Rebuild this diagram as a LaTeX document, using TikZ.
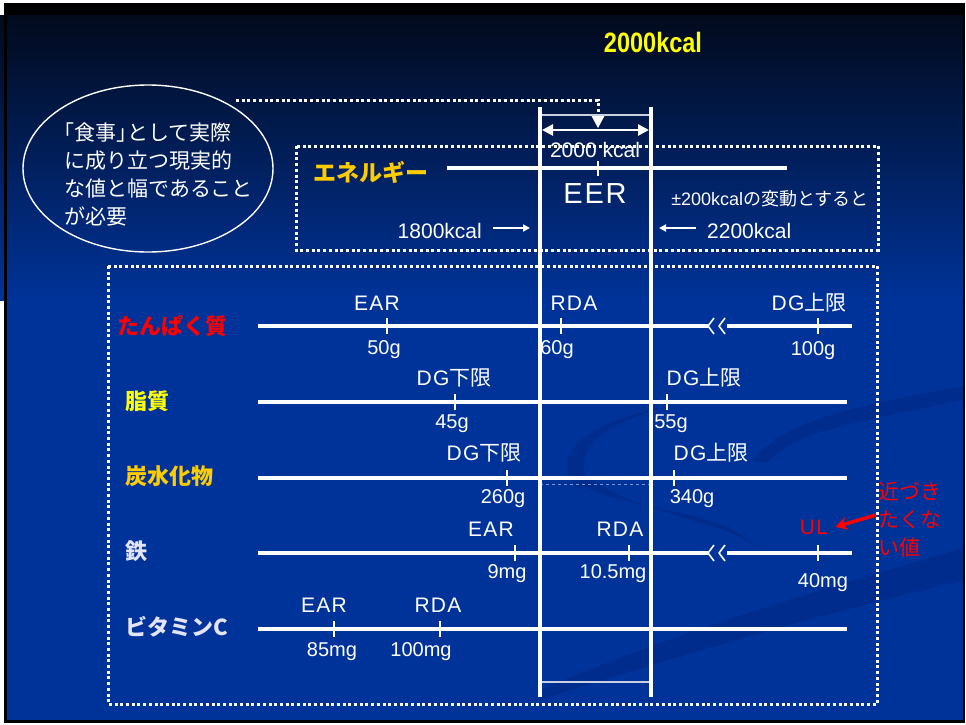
\documentclass[tikz,border=0pt]{standalone}
\usepackage{fontspec}
\setmainfont{Liberation Sans}
\newfontfamily\jp{Noto Sans CJK JP}
\newfontfamily\jph[RawFeature=+halt]{Noto Sans CJK JP}
\newfontfamily\capsp[LetterSpace=6]{Liberation Sans}
\usetikzlibrary{arrows.meta,shapes.geometric}
\definecolor{bgblue}{RGB}{0,51,153}
\definecolor{bgtop}{RGB}{2,10,28}
\definecolor{gold}{RGB}{255,204,0}
\definecolor{titley}{RGB}{255,255,0}
\definecolor{lav}{RGB}{228,228,248}
\definecolor{swoosh}{RGB}{0,38,125}
\definecolor{faint}{RGB}{120,150,220}
\definecolor{thinl}{RGB}{200,208,225}
\newcommand{\fs}[1]{\fontsize{#1}{#1}\selectfont}
\begin{document}
\begin{tikzpicture}[x=1pt,y=-1pt,
  lab/.style={text=white,inner sep=0pt,anchor=base,font=\fs{20}},
  caplab/.style={text=white,inner sep=0pt,anchor=base,font=\capsp\fs{21}},
  nut/.style={inner sep=0pt,anchor=west,font=\jp\bfseries\fs{22}},
  rowline/.style={draw=white,line width=4pt},
  tickmark/.style={draw=white,line width=1.8pt},
  vline/.style={draw=white,line width=4.5pt},
  chev/.style={draw=white,line width=1.6pt,line join=round},
  dotbox/.style={draw=white,line width=3pt,line cap=butt,dash pattern=on 3pt off 2.7pt},
  band/.style={fill=swoosh,opacity=0.4},
]
\useasboundingbox (0,0) rectangle (966,724);
% background
\fill[white] (0,0) rectangle (966,724);
\fill[black] (4,3) rectangle (965,723);
\shade[top color=bgtop,bottom color=bgblue] (0,15) rectangle (963,300);
\fill[bgblue] (7,300) rectangle (963,720);
\fill[black] (4,15) rectangle (7,720);
% swooshes
\fill[band] (578,488) .. controls (550,460) and (570,420) .. (700,400) .. controls (600,418) and (570,450) .. (590,486) -- cycle;
\fill[band] (584,486) .. controls (640,515) and (720,505) .. (762,552) .. controls (730,520) and (650,520) .. (590,478) -- cycle;
\fill[band] (752,462) .. controls (780,420) and (860,405) .. (963,386) -- (963,400) .. controls (870,420) and (795,430) .. (768,462) -- cycle;
\fill[band] (540,690) .. controls (680,630) and (820,590) .. (963,548) -- (963,580) .. controls (820,615) and (680,655) .. (540,700) -- cycle;

% title
\node[font=\bfseries\fs{28},text=titley,inner sep=0pt,anchor=base] (title) at (653,52) {\scalebox{0.84}[1]{2000kcal}};

% ellipse note
\node[ellipse,draw=white,line width=1.4pt,minimum width=250pt,minimum height=167pt,inner sep=0pt] (ell) at (148,168.5) {};
\node[align=left,text=white,font=\jp\fontsize{21}{28}\selectfont,inner sep=0pt,anchor=west] (elltxt) at (64,174) {{\jph 「}食事{\jph 」}として実際\\に成り立つ現実的\\な値と幅であること\\が必要};

% dotted boxes
\draw[dotbox] (296,146) rectangle (878,250);
\draw[dotbox] (108,266) rectangle (877,704);

% pointer from ellipse
\coordinate (c0) at (236,100);
\coordinate (c1) at (598,100);
\coordinate (c2) at (598,112);
\draw[dotbox] (c0) -- (c1) -- (c2);
\fill[white] (591,115) -- (605,115) -- (598,128) -- cycle;

% energy
\node[nut,text=gold,font=\jp\bfseries\fs{23}] (ene) at (313,172) {エネルギー};
\coordinate (e1) at (447,168);
\coordinate (e2) at (787,168);
\draw[draw=white,line width=4.5pt] (e1) -- (e2);
\draw[tickmark] (598,161) -- (598,176);
\node[lab,font=\fs{21}] (e2000) at (595,157) {2000 kcal};
\node[caplab,font=\capsp\fs{29}] (eer) at (595,203) {EER};
\node[lab,font=\fs{18}] (pm) at (770,205) {±200kcal{\jp の変動とすると}};
\node[lab,font=\fs{21},anchor=base east] (k18) at (482,238) {1800kcal};
\node[lab,font=\fs{21},anchor=base west] (k22) at (707,238) {2200kcal};
\coordinate (a1) at (493,228);
\coordinate (a2) at (530,228);
\coordinate (a3) at (696,228);
\coordinate (a4) at (659,228);
\draw[white,line width=1.8pt,-{Triangle[length=7pt,width=7pt]}] (a1) -- (a2);
\draw[white,line width=1.8pt,-{Triangle[length=7pt,width=7pt]}] (a3) -- (a4);

% row 1: protein
\node[nut,text=red] (n1) at (117,326) {たんぱく質};
\draw[rowline] (258,326) -- (708,326);
\draw[rowline] (727,326) -- (852,326);
\draw[chev] (714,318) -- (708,326) -- (714,334);
\draw[chev] (725,318) -- (719,326) -- (725,334);
\draw[tickmark] (387,318) -- (387,334);
\draw[tickmark] (561,318) -- (561,334);
\draw[tickmark] (818,318) -- (818,334);
\node[caplab] (l1a) at (377,310) {EAR};
\node[lab] (v1a) at (384,354) {50g};
\node[caplab] (l1b) at (574,310) {RDA};
\node[lab] (v1b) at (557,354) {60g};
\node[caplab] (l1c) at (809,310) {DG{\jp 上限}};
\node[lab] (v1c) at (813,355) {100g};

% row 2: fat
\node[nut,text=titley] (n2) at (125,401) {脂質};
\draw[rowline] (258,402) -- (847,402);
\draw[tickmark] (455,394) -- (455,410);
\draw[tickmark] (667,394) -- (667,410);
\node[caplab] (l2a) at (454,385) {DG{\jp 下限}};
\node[lab] (v2a) at (452,428) {45g};
\node[caplab] (l2b) at (704,385) {DG{\jp 上限}};
\node[lab] (v2b) at (671,428) {55g};

% row 3: carbohydrate
\node[nut,text=gold] (n3) at (125,476) {炭水化物};
\draw[rowline] (258,478) -- (847,478);
\draw[faint,line width=0.8pt,dashed] (540,484) -- (654,484);
\draw[tickmark] (507,470) -- (507,486);
\draw[tickmark] (674,470) -- (674,486);
\node[caplab] (l3a) at (484,460) {DG{\jp 下限}};
\node[lab] (v3a) at (503,503) {260g};
\node[caplab] (l3b) at (711,460) {DG{\jp 上限}};
\node[lab] (v3b) at (692,503) {340g};

% row 4: iron
\node[nut,text=lav] (n4) at (125,551) {鉄};
\draw[rowline] (258,553) -- (708,553);
\draw[rowline] (727,553) -- (852,553);
\draw[chev] (714,545) -- (708,553) -- (714,561);
\draw[chev] (725,545) -- (719,553) -- (725,561);
\draw[tickmark] (515,545) -- (515,561);
\draw[tickmark] (629,545) -- (629,561);
\draw[tickmark] (818,545) -- (818,561);
\node[caplab] (l4a) at (491,536) {EAR};
\node[lab] (v4a) at (507,578) {9mg};
\node[caplab] (l4b) at (620,536) {RDA};
\node[lab] (v4b) at (613,578) {10.5mg};
\node[caplab,text=red] (ul) at (814,534) {UL};
\node[lab] (v4c) at (823,587) {40mg};
\node[align=left,text=red,font=\jp\fontsize{21}{28}\selectfont,inner sep=0pt,anchor=west] (note) at (878,520) {近づき\\たくな\\い値};
\draw[red,line width=3.5pt,-{Stealth[length=12pt,width=13pt]}] ([xshift=-2pt,yshift=5pt]note.west) -- ([xshift=7pt]ul.east);

% row 5: vitamin C
\node[nut,text=lav] (n5) at (125,627) {ビタミンC};
\draw[rowline] (258,629) -- (847,629);
\draw[tickmark] (334,621) -- (334,637);
\draw[tickmark] (440,621) -- (440,637);
\node[caplab] (l5a) at (324,612) {EAR};
\node[lab] (v5a) at (332,656) {85mg};
\node[caplab] (l5b) at (438,612) {RDA};
\node[lab] (v5b) at (421,656) {100mg};

% width markers (EER band)
\coordinate (vl1) at (540,107);
\coordinate (vl2) at (540,697);
\coordinate (vr1) at (651,107);
\coordinate (vr2) at (651,697);
\draw[thinl,line width=1.5pt] (540,115) -- (651,115);
\draw[thinl,line width=1.2pt] (540,682) -- (651,682);
\draw[white,line width=2.6pt,{Triangle[length=11pt,width=11pt]}-{Triangle[length=11pt,width=11pt]}] (542,130) -- (649,130);
\draw[vline] (vl1) -- (vl2);
\draw[vline] (vr1) -- (vr2);
\end{tikzpicture}
\end{document}
